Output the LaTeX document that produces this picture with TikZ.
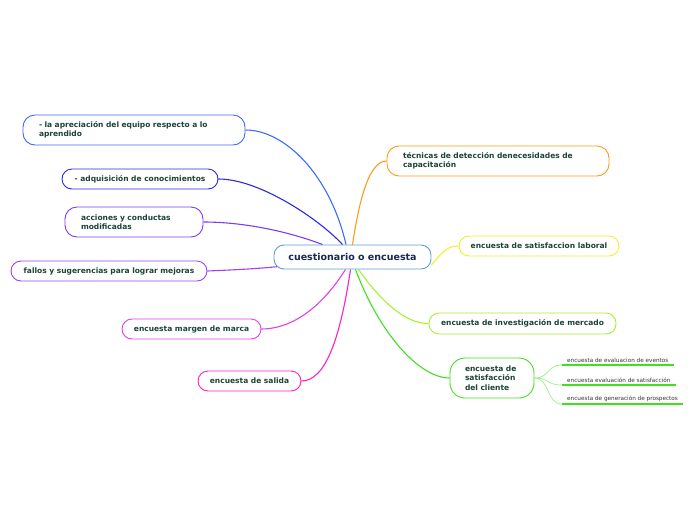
\documentclass[tikz,border=0pt]{standalone}
\usepackage{fontspec}
\newfontfamily\dv{DejaVu Sans}
\usetikzlibrary{backgrounds}
\definecolor{txt}{HTML}{1C4434}
\definecolor{ctxt}{HTML}{1A2850}
\definecolor{cb}{HTML}{5A9FD6}
\definecolor{cA}{HTML}{3D6BFA}
\definecolor{cB}{HTML}{2A2AE0}
\definecolor{cC}{HTML}{7A3CF5}
\definecolor{cD}{HTML}{A040F0}
\definecolor{cE}{HTML}{E040E8}
\definecolor{cF}{HTML}{FF20C0}
\definecolor{cG}{HTML}{FF9A1A}
\definecolor{cH}{HTML}{F0F030}
\definecolor{cI}{HTML}{A8F030}
\definecolor{cJ}{HTML}{40E020}
\definecolor{cS}{HTML}{98F088}
\definecolor{stxt}{HTML}{333333}
\begin{document}
\begin{tikzpicture}[x=1pt,y=-1pt,
  box/.style={draw, rounded corners=10pt, fill=white, line width=0.9pt,
    font=\dv\bfseries\fontsize{7.5}{9.5}\selectfont, text=txt, inner ysep=0pt, inner xsep=0pt,
    minimum height=20pt, align=center},
  multi/.style={text width=#1, align=left, inner xsep=16pt, minimum height=30pt, rounded corners=12pt},
  link/.style={line width=1.1pt},
  sub/.style={font=\dv\fontsize{5.7}{6.5}\selectfont, text=stxt, inner xsep=5pt, inner ysep=2.5pt},
  subline/.style={cJ, line width=1.3pt}
]
\useasboundingbox (0,0) rectangle (696,520);

\node[box, draw=cb, minimum width=157pt, minimum height=24pt, text=ctxt,
  font=\dv\bfseries\fontsize{9.5}{11}\selectfont] (c) at (352.5,257) {cuestionario o encuesta};

\node[box, draw=cA, multi=190pt] (A) at (134,130) {- la apreciación del equipo respecto a lo\\aprendido};
\node[box, draw=cB, minimum width=156pt] (B) at (140,179) {- adquisición de conocimientos};
\node[box, draw=cC, multi=106pt] (C) at (134,222) {acciones y conductas\\modificadas};
\node[box, draw=cD, minimum width=196pt] (D) at (109,271) {fallos y sugerencias para lograr mejoras};
\node[box, draw=cE, minimum width=139pt] (E) at (191.5,329) {encuesta margen de marca};
\node[box, draw=cF, minimum width=103pt] (F) at (249.5,381) {encuesta de salida};
\node[box, draw=cG, multi=190pt] (G) at (498,161) {técnicas de detección denecesidades de\\capacitación};
\node[box, draw=cH, minimum width=160pt] (H) at (539,246) {encuesta de satisfaccion laboral};
\node[box, draw=cI, minimum width=187pt, minimum height=21pt] (I) at (522.5,323.5) {encuesta de investigación de mercado};
\node[box, draw=cJ, multi=54pt, inner xsep=15pt, minimum height=40pt, rounded corners=15pt] (J) at (492,378) {encuesta de\\satisfacción\\del cliente};

\node[sub, anchor=south west] (s1) at (562,365) {encuesta de evaluacion de eventos};
\node[sub, anchor=south west] (s2) at (562,385) {encuesta evaluación de satisfacción};
\node[sub, anchor=south west] (s3) at (562,404) {encuesta de generación de prospectos};
\draw[subline] (s1.south west) -- (s1.south east);
\draw[subline] (s2.south west) -- (s2.south east);
\draw[subline] (s3.south west) -- (s3.south east);

\begin{scope}[on background layer]
\draw[link, cA] ([xshift=-6.5pt]c.north) .. controls (330,175) and (285,130) .. (A.east);
\draw[link, cB] ([xshift=-10pt]c.north) .. controls (320,220) and (260,179) .. (B.east);
\draw[link, cC] ([xshift=-30pt]c.north) .. controls (290,232) and (245,222) .. (C.east);
\draw[link, cD] ([xshift=6pt,yshift=3pt]c.south west) .. controls (255,269) and (230,270) .. (D.east);
\draw[link, cE] ([xshift=-7pt]c.south) .. controls (320,310) and (290,329) .. (E.east);
\draw[link, cF] ([xshift=-2pt]c.south) .. controls (340,340) and (325,381) .. (F.east);
\draw[link, cG] ([xshift=0pt]c.north) .. controls (360,195) and (370,161) .. (G.west);
\draw[link, cH] ([yshift=-8pt]c.east) .. controls (445,248) and (450,246) .. (H.west);
\draw[link, cI] ([xshift=6pt]c.south) .. controls (380,300) and (405,324) .. (I.west);
\draw[link, cJ] ([xshift=3pt]c.south) .. controls (380,335) and (420,378) .. (J.west);
\draw[cS, line width=0.7pt] (J.east) .. controls (550,378) and (546,365) .. (s1.south west);
\draw[cS, line width=0.7pt] (J.east) .. controls (550,378) and (546,385) .. (s2.south west);
\draw[cS, line width=0.7pt] (J.east) .. controls (550,378) and (546,404) .. (s3.south west);
\end{scope}
\end{tikzpicture}
\end{document}
